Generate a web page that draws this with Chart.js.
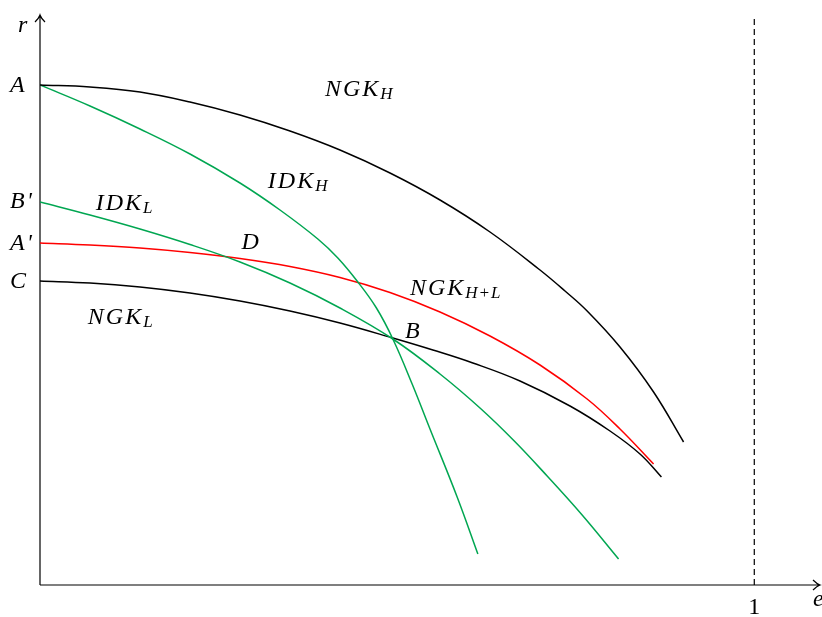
<!DOCTYPE html>
<html>
<head>
<meta charset="utf-8">
<script src="https://cdn.jsdelivr.net/npm/chart.js@4/dist/chart.umd.min.js"></script>
<style>
  html, body { margin: 0; padding: 0; background: #fff; }
  #wrap { width: 822px; height: 617px; }
</style>
</head>
<body>
<div id="wrap"><canvas id="chart" width="822" height="617"></canvas></div>
<script>
// curve values (x = e, y = r)
const ngkHX = [0, 0.070, 0.140, 0.210, 0.280, 0.350, 0.420, 0.490, 0.560, 0.630, 0.700, 0.735, 0.766, 0.812, 0.859, 0.901];
const ngkHY = [5.00, 4.98, 4.93, 4.83, 4.70, 4.54, 4.35, 4.12, 3.85, 3.53, 3.15, 2.94, 2.74, 2.38, 1.93, 1.43];

const idkHX = [0, 0.070, 0.140, 0.210, 0.280, 0.336, 0.389, 0.417, 0.445, 0.471, 0.494, 0.521, 0.546, 0.584, 0.613];
const idkHY = [5.00, 4.79, 4.56, 4.31, 4.02, 3.75, 3.46, 3.27, 3.03, 2.77, 2.46, 2.01, 1.56, 0.88, 0.31];

const idkLX = [0, 0.070, 0.140, 0.210, 0.280, 0.350, 0.420, 0.494, 0.560, 0.616, 0.664, 0.710, 0.759, 0.810];
const idkLY = [3.83, 3.70, 3.56, 3.405, 3.23, 3.02, 2.77, 2.46, 2.11, 1.77, 1.44, 1.09, 0.70, 0.26];

const ngkHLX = [0, 0.070, 0.140, 0.210, 0.280, 0.350, 0.420, 0.490, 0.560, 0.630, 0.700, 0.766, 0.812, 0.859];
const ngkHLY = [3.42, 3.40, 3.37, 3.325, 3.265, 3.185, 3.075, 2.925, 2.73, 2.49, 2.20, 1.86, 1.56, 1.21];

const ngkLX = [0, 0.070, 0.140, 0.210, 0.280, 0.350, 0.420, 0.494, 0.550, 0.606, 0.672, 0.742, 0.798, 0.840, 0.870];
const ngkLY = [3.04, 3.02, 2.98, 2.92, 2.84, 2.74, 2.62, 2.47, 2.35, 2.22, 2.04, 1.79, 1.54, 1.31, 1.08];

const xMax = 1.092;
const yMax = 5.70;

// y axis marks on the left
const yMarks = ["A", "B'", "A'", "C"];
const yMarkVals = [5.00, 3.84, 3.42, 3.04];

// curve names: [main, subscript, x, y]
const curveLabels = [
  ["NGK", "H", 0.399, 4.95],
  ["IDK", "H", 0.319, 4.03],
  ["IDK", "L", 0.078, 3.81],
  ["NGK", "H+L", 0.518, 2.96],
  ["NGK", "L", 0.067, 2.67],
  ["D", "", 0.282, 3.42],
  ["B", "", 0.511, 2.53]
];

const GREEN = '#00a651';
const RED = '#ff0000';
const BLACK = '#000000';

function pts(xs, ys){
    return xs.map((x, i) => ({x: x, y: ys[i]}));
}

function curve(xs, ys, color){
    return {
        data: pts(xs, ys),
        borderColor: color,
        borderWidth: 1.5,
        pointRadius: 0,
        showLine: true,
        fill: false,
        tension: 0.4
    };
}

const SERIF = '"Liberation Serif", "DejaVu Serif", serif';
const FONT = 'italic 24px ' + SERIF;
const SUB = 'italic 17px ' + SERIF;

const decor = {
    id: 'decor',
    beforeDatasetsDraw(chart){
        const ctx = chart.ctx;
        const xs = chart.scales.x, ys = chart.scales.y;
        const x0 = xs.getPixelForValue(0), y0 = ys.getPixelForValue(0);
        const right = xs.getPixelForValue(xMax), top = ys.getPixelForValue(yMax);
        ctx.save();
        ctx.strokeStyle = BLACK;
        ctx.lineWidth = 1.2;
        // axes
        ctx.beginPath();
        ctx.moveTo(x0, y0); ctx.lineTo(right, y0);
        ctx.moveTo(x0, y0); ctx.lineTo(x0, top);
        // arrow heads
        ctx.moveTo(right - 7, y0 - 5); ctx.quadraticCurveTo(right - 3, y0 - 1, right, y0);
        ctx.quadraticCurveTo(right - 3, y0 + 1, right - 7, y0 + 5);
        ctx.moveTo(x0 - 5, top + 7); ctx.quadraticCurveTo(x0 - 1, top + 3, x0, top);
        ctx.quadraticCurveTo(x0 + 1, top + 3, x0 + 5, top + 7);
        ctx.stroke();
        // dashed line at e = 1
        const x1 = xs.getPixelForValue(1);
        ctx.setLineDash([6, 4]);
        ctx.beginPath();
        ctx.moveTo(x1, y0); ctx.lineTo(x1, top);
        ctx.stroke();
        ctx.restore();
    },
    afterDatasetsDraw(chart){
        const ctx = chart.ctx;
        const xs = chart.scales.x, ys = chart.scales.y;
        const x0 = xs.getPixelForValue(0), y0 = ys.getPixelForValue(0);
        ctx.save();
        ctx.fillStyle = BLACK;
        ctx.textBaseline = 'middle';
        ctx.font = FONT;
        ctx.letterSpacing = '2px';
        // axis names and tick
        ctx.textAlign = 'left';
        ctx.fillText('r', x0 - 22, ys.getPixelForValue(yMax) + 11);
        yMarks.forEach((m, i) => {
            ctx.fillText(m, x0 - 30, ys.getPixelForValue(yMarkVals[i]) + 1);
        });
        ctx.letterSpacing = '0px';
        ctx.font = '24px ' + SERIF;
        ctx.textAlign = 'center';
        ctx.fillText('1', xs.getPixelForValue(1), y0 + 23);
        ctx.font = FONT;
        ctx.textAlign = 'left';
        ctx.fillText('e', 813, y0 + 15);
        // curve names
        curveLabels.forEach(l => {
            const px = xs.getPixelForValue(l[2]);
            const py = ys.getPixelForValue(l[3]);
            ctx.font = FONT;
            ctx.letterSpacing = '2px';
            ctx.textAlign = 'left';
            ctx.fillText(l[0], px, py);
            if(l[1]){
                const w = ctx.measureText(l[0]).width;
                ctx.font = SUB;
                ctx.letterSpacing = '1px';
                ctx.fillText(l[1], px + w, py + 5);
            }
        });
        ctx.restore();
    }
};

new Chart(document.getElementById('chart'), {
    type: 'scatter',
    data: {
        datasets: [
            curve(ngkHX, ngkHY, BLACK),
            curve(idkHX, idkHY, GREEN),
            curve(idkLX, idkLY, GREEN),
            curve(ngkHLX, ngkHLY, RED),
            curve(ngkLX, ngkLY, BLACK)
        ]
    },
    options: {
        responsive: false,
        animation: false,
        layout: { padding: { left: 40, right: 2, top: 15, bottom: 32 } },
        plugins: {
            legend: { display: false },
            tooltip: { enabled: false }
        },
        scales: {
            x: { type: 'linear', min: 0, max: xMax, display: false },
            y: { type: 'linear', min: 0, max: yMax, display: false }
        }
    },
    plugins: [decor]
});
</script>
</body>
</html>
